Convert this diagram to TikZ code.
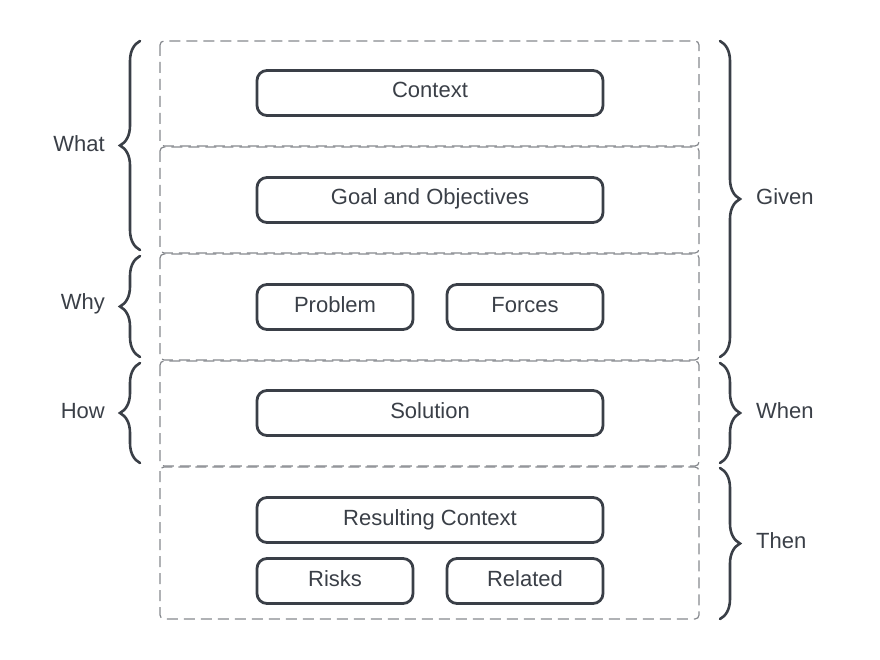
\documentclass[tikz,border=0pt]{standalone}
\usepackage{fontspec}
\setmainfont{Liberation Sans}
\usetikzlibrary{decorations.pathreplacing}
\definecolor{ink}{HTML}{3A3F47}
\definecolor{rim}{HTML}{85888D}

\begin{document}
\begin{tikzpicture}[x=1pt, y=-1pt,
    part/.style={draw=rim, line width=1.2pt, dash pattern=on 11pt off 6pt, rounded corners=4pt},
    item/.style={draw=ink, line width=2.8pt, rounded corners=10pt, minimum height=45pt,
      inner sep=0pt, text height=16pt, text depth=6pt, text=ink, font=\fontsize{22}{26}\selectfont},
    curly/.style={draw=ink, line width=2.6pt, line cap=round, decorate,
      decoration={brace, amplitude=20pt}},
    tag/.style={text=ink, font=\fontsize{22}{26}\selectfont, inner sep=0pt}]
                \useasboundingbox (0, 0) rectangle (880, 660);
                % Rows
                \draw [part] (160, 41) rectangle (699, 146);
                \draw [part] (160, 147) rectangle (699, 253);
                \draw [part] (160, 254) rectangle (699, 360);
                \draw [part] (160, 361) rectangle (699, 466);
                \draw [part] (160, 467) rectangle (699, 619);
                % Blocks
                \node [item, minimum width=346pt] (context) at (430, 93) {Context};
                \node [item, minimum width=346pt] (goal) at (430, 200) {Goal and Objectives};
                \node [item, minimum width=156pt] (problem) at (335, 307) {Problem};
                \node [item, minimum width=156pt] (forces) at (525, 307) {Forces};
                \node [item, minimum width=346pt] (solution) at (430, 413) {Solution};
                \node [item, minimum width=346pt] (result) at (430, 520) {Resulting Context};
                \node [item, minimum width=156pt] (risks) at (335, 581) {Risks};
                \node [item, minimum width=156pt] (related) at (525, 581) {Related};
                % Left braces
                \draw [curly] (140, 250) -- (140, 41);
                \draw [curly] (140, 357) -- (140, 256);
                \draw [curly] (140, 463) -- (140, 363);
                \node [tag, anchor=east] (what) at (105, 144) {What};
                \node [tag, anchor=east] (why) at (105, 304) {Why};
                \node [tag, anchor=east] (how) at (105, 411) {How};
                % Right braces
                \draw [curly] (720, 41) -- (720, 357);
                \draw [curly] (720, 363) -- (720, 463);
                \draw [curly] (720, 468) -- (720, 619);
                \node [tag, anchor=west] (given) at (756, 197) {Given};
                \node [tag, anchor=west] (when) at (756, 411) {When};
                \node [tag, anchor=west] (then) at (756, 541) {Then};
\end{tikzpicture}
\end{document}
